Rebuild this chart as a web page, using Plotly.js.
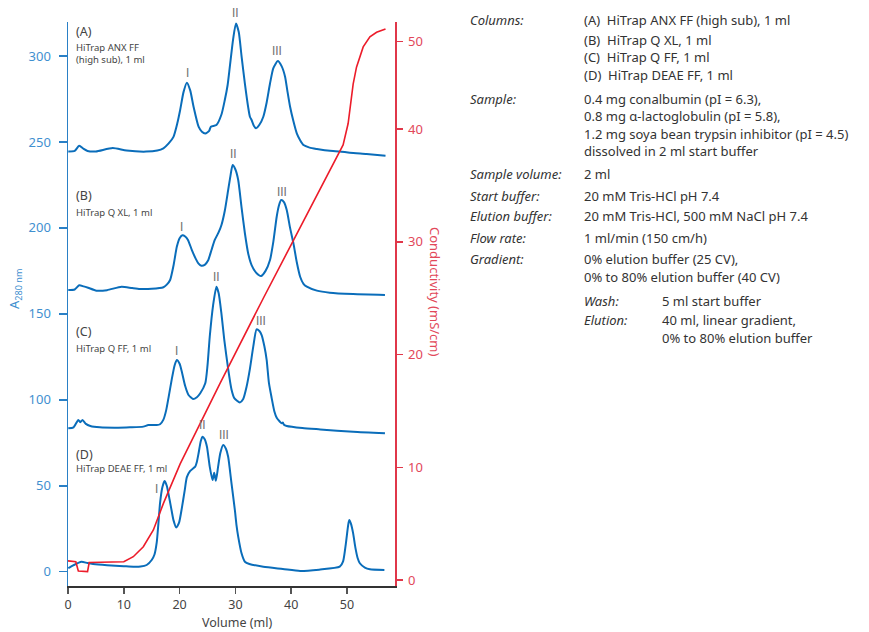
<!DOCTYPE html>
<html>
<head>
<meta charset="utf-8">
<script src="https://cdn.plot.ly/plotly-3.0.1.min.js"></script>
<style>html,body{margin:0;padding:0;background:#fff;}#chart{width:869px;height:632px;}</style>
</head>
<body>
<div id="chart"></div>
<script>
// ---------- DATA ----------
// Trace A: HiTrap ANX FF (high sub), 1 ml  (volume ml, A280 nm incl. offset)
var volA = [0.05,1.2,2.0,2.8,3.5,5.0,8.0,10.5,14.0,16.0,17.1,18.0,18.9,19.6,20.1,20.7,21.3,21.9,22.5,23.4,24.0,24.6,25.3,25.6,26.6,27.5,28.1,28.6,29.0,29.6,30.1,30.6,31.1,31.7,32.3,32.6,32.9,33.3,33.7,34.3,35.0,35.6,36.2,36.8,37.6,38.3,38.9,39.3,39.8,40.4,41.0,41.6,42.2,43.3,44.6,46.0,48.7,50.5,53.5,56.9];
var absA = [244.5,244.8,247.8,246.0,244.8,244.5,246.5,245.0,244.4,245.0,246.3,249,253,261,268.6,279,284.5,280,270.5,258.9,256,255,256.5,258.9,259.9,266,274.4,283,293.8,310,319,314,300,284,270,264.7,262.8,259.5,258,260,264.7,273,284,293,297.1,294,288,280,270.5,262,255,251,248.2,246.7,245.9,245.2,244.5,243.8,243,242];

// Trace B: HiTrap Q XL, 1 ml
var volB = [0.05,1.2,2.0,2.8,3.6,5.1,7.0,9.6,11.5,12.9,15.0,17.1,17.7,18.3,18.9,19.5,20.0,20.5,21.0,21.5,22.2,22.9,23.4,23.9,24.5,25.1,25.7,26.3,27.0,27.5,28.1,28.7,29.1,29.5,30.0,30.5,31.1,31.7,32.3,32.9,33.7,34.6,35.4,36.2,36.8,37.4,37.8,38.2,38.7,39.2,39.8,40.4,41.0,41.6,42.2,42.8,44.6,46.9,51.1,56.8];
var absB = [163.9,164.2,166.6,166,165.2,163.5,163.8,165.8,165,164.5,164.6,165.5,167,169.7,178,189,194,195.7,195,193,187.1,182,179.2,178,178.5,181,187,193,197.5,201.7,210,222,230,236.6,234,227.9,212,196.9,185,178.4,174,172,175,181.3,192,206.5,213,216.2,215,210.4,200,191,180,171.6,167.5,165.8,163.5,162.3,161.5,161];

// Trace C: HiTrap Q FF, 1 ml
var volC = [0.05,1.0,1.85,2.2,2.6,3.2,4.0,5.7,9.0,11.1,13.5,14.4,15.9,16.5,17.1,17.6,18.0,18.6,19.1,19.5,20.0,20.4,21.0,21.6,22.4,23.1,23.7,24.6,25.0,25.4,26.0,26.6,27.0,27.5,28.0,28.7,29.3,29.8,30.8,31.4,32.0,32.6,33.2,33.8,34.3,34.7,35.2,35.6,36.0,36.5,37.0,37.4,37.9,38.3,38.5,38.7,39.2,42.0,45.2,51.1,56.8];
var absC = [83.4,84,88.3,87,88.3,86,84.8,84,83.8,84,84.4,85.3,85.3,85.8,88.5,94,101,112,120,123.2,121,116.3,108,102.8,100.5,101.5,103.8,109.6,120,136.7,155,165.8,162,150,135,118,106,101,98.5,100.5,107.6,118,130.9,141,140,137.7,131,123.2,110,101,93,89.5,87.5,86.3,86.8,85.5,84.8,83.6,82.8,81.4,80.5];

// Trace D: HiTrap DEAE FF, 1 ml
var volD = [0.05,1.0,2.4,3.5,4.5,7.0,10.0,11.7,13.0,14.1,15.0,15.5,15.9,16.2,16.5,16.9,17.3,17.7,18.2,18.6,18.9,19.4,19.9,20.4,20.9,21.3,21.9,22.5,22.8,23.1,23.4,23.8,24.1,24.5,24.9,25.4,25.9,26.2,26.5,26.9,27.3,27.8,28.3,28.7,29.3,29.9,30.2,30.5,31.1,31.7,32.5,35.0,38.5,41.6,45.0,48.7,49.3,49.8,50.2,50.4,50.7,51.1,51.5,51.9,52.3,53.2,54.1,56.7];
var absD = [2.0,3.8,5.8,5.0,4.5,3.8,3.2,2.9,3.0,3.9,6.8,10,17,28,40,49,52.8,50,42,35,30,25.7,28.5,37,47,55,58.6,60.3,61.1,64,68.9,76,78.5,77,72.7,61.1,53.3,57.6,52.9,61.1,69,73.7,71.5,66.9,51.4,35.9,27,20.4,10.7,5.8,4.5,2.9,1.6,0.4,1.2,2.9,6,16.5,27,30.1,28,22.3,14,8,4.9,2.4,1.4,1.0];

// Conductivity (mS/cm)
var volCond = [0,1.4,1.85,3.5,3.8,10.0,11.7,13.5,15.3,17.1,20.1,27.2,35.0,42.2,49.3,50.2,51.1,51.7,52.9,54.1,55.3,56.9];
var cond    = [1.7,1.62,0.8,0.75,1.55,1.62,2.07,2.95,4.44,6.8,10.3,17.4,25.0,31.9,38.6,40.5,44.0,45.5,47.3,48.2,48.6,48.9];

// Tick labels
var xTicks = [0,10,20,30,40,50];
var leftTicks = [0,50,100,150,200,250,300];
// right axis: the printed "50" tick sits closer to "40" than the other steps
var rightTickVals = [0,10,20,30,40,47.8];
var rightTickText = ['0','10','20','30','40','50'];

// Peak labels (volume, A280)
var peakText = ['I','II','III','I','II','III','I','II','III','I','II','III'];
var peakX    = [21.4,30.1,37.5, 20.4,29.6,38.3, 19.4,26.6,34.5, 15.8,24.1,28.0];
var peakY    = [290.3,324.8,303.1, 200.7,243,221, 128.6,171.3,146, 47.9,85.3,79.5];

// Panel labels
var panelTitle = ['(A)','(B)','(C)','(D)'];
var panelSub   = ['HiTrap ANX FF<br>(high sub), 1 ml','HiTrap Q XL, 1 ml','HiTrap Q FF, 1 ml','HiTrap DEAE FF, 1 ml'];

// Method text
var methodLabels = ['Columns:','','','','Sample:','','','','Sample volume:','Start buffer:','Elution buffer:','Flow rate:','Gradient:',''];
var methodValues = ['(A)\u00a0 HiTrap ANX FF (high sub), 1 ml','(B)\u00a0 HiTrap Q XL, 1 ml','(C)\u00a0 HiTrap Q FF, 1 ml','(D)\u00a0 HiTrap DEAE FF, 1 ml',
  '0.4 mg conalbumin (pI = 6.3),','0.8 mg \u03b1-lactoglobulin (pI = 5.8),','1.2 mg soya bean trypsin inhibitor (pI = 4.5)','dissolved in 2 ml start buffer',
  '2 ml','20 mM Tris-HCl pH 7.4','20 mM Tris-HCl, 500 mM NaCl pH 7.4','1 ml/min (150 cm/h)','0% elution buffer (25 CV),','0% to 80% elution buffer (40 CV)'];
var gradLabels = ['Wash:','Elution:',''];
var gradValues = ['5 ml start buffer','40 ml, linear gradient,','0% to 80% elution buffer'];

// ---------- LAYOUT HELPERS ----------
var W = 869, H = 632, ML = 68, MR = 474, MT = 22, MB = 46;
var PW = W - ML - MR, PH = H - MT - MB;
var XR = [0,58.6], YR = [-8.32,319.8], Y2R = [-0.53,49.51];
function pxX(x){ return (x - ML) / PW; }
function pxY(y){ return (H - MB - y) / PH; }
function dataYtoPaper(v){ return (v - YR[0]) / (YR[1] - YR[0]); }

var FONT = 'Noto Sans, Open Sans, sans-serif';
var BLUE = '#0a6dba', BLUE_AX = '#2a80c6', BLUE_TXT = '#3f90d0';
var RED = '#ec1c2a', RED_AX = '#e0374a', RED_TXT = '#e2485a';
var GREY = '#444';

function line(x, y, color, width, yaxis){
  return {x:x, y:y, type:'scatter', mode:'lines', yaxis:yaxis||'y',
          line:{color:color, width:width, shape:'spline', smoothing:0.6}, hoverinfo:'skip'};
}
var traces = [
  line(volA, absA, BLUE, 2),
  line(volB, absB, BLUE, 2),
  line(volC, absC, BLUE, 2),
  line(volD, absD, BLUE, 2),
  {x:volCond, y:cond, type:'scatter', mode:'lines', yaxis:'y2', line:{color:RED, width:1.6}, hoverinfo:'skip'}
];

var ann = [];
// peak labels
for (var i=0;i<peakText.length;i++){
  ann.push({x:peakX[i], y:dataYtoPaper(peakY[i]), xref:'x', yref:'paper', text:peakText[i], showarrow:false,
    font:{family:'Roboto, Liberation Sans, sans-serif', size:12, color:'#707070'}, xanchor:'center', yanchor:'middle'});
}
// panel labels
var panelTitleY = [32,196,331,454], panelSubY = [54,213,348,468];
for (var i=0;i<4;i++){
  ann.push({x:pxX(74), y:pxY(panelTitleY[i]), xref:'paper', yref:'paper', text:panelTitle[i], showarrow:false,
    font:{family:FONT, size:12.5, color:GREY}, xanchor:'left', yanchor:'middle'});
  ann.push({x:pxX(74), y:pxY(panelSubY[i]), xref:'paper', yref:'paper', text:panelSub[i], showarrow:false, align:'left',
    font:{family:FONT, size:9.5, color:GREY}, xanchor:'left', yanchor:'middle'});
}
// axis titles
ann.push({x:pxX(15), y:pxY(289), xref:'paper', yref:'paper', text:'A<sub>280 nm</sub>', textangle:-90, showarrow:false,
  font:{family:FONT, size:13, color:BLUE_TXT}, xanchor:'center', yanchor:'middle'});
ann.push({x:pxX(435), y:pxY(292), xref:'paper', yref:'paper', text:'Conductivity (mS/cm)', textangle:90, showarrow:false,
  font:{family:FONT, size:13, color:RED_TXT}, xanchor:'center', yanchor:'middle'});
ann.push({x:pxX(237), y:pxY(632), xref:'paper', yref:'paper', text:'Volume (ml)', showarrow:false, borderpad:0,
  font:{family:FONT, size:12.5, color:GREY}, xanchor:'center', yanchor:'bottom'});
// method text
var methodY = [20,40,57,75,99,116,134,151,174,196,216,238,259,277];
for (var i=0;i<methodValues.length;i++){
  if (methodLabels[i]) ann.push({x:pxX(468), y:pxY(methodY[i]), xref:'paper', yref:'paper', text:'<i>'+methodLabels[i]+'</i>', showarrow:false,
    font:{family:FONT, size:13, color:'#333'}, xanchor:'left', yanchor:'middle'});
  ann.push({x:pxX(582), y:pxY(methodY[i]), xref:'paper', yref:'paper', text:methodValues[i], showarrow:false,
    font:{family:FONT, size:13, color:'#333'}, xanchor:'left', yanchor:'middle'});
}
var gradY = [301,320,338];
for (var i=0;i<gradValues.length;i++){
  if (gradLabels[i]) ann.push({x:pxX(582), y:pxY(gradY[i]), xref:'paper', yref:'paper', text:'<i>'+gradLabels[i]+'</i>', showarrow:false,
    font:{family:FONT, size:13, color:'#333'}, xanchor:'left', yanchor:'middle'});
  ann.push({x:pxX(660), y:pxY(gradY[i]), xref:'paper', yref:'paper', text:gradValues[i], showarrow:false,
    font:{family:FONT, size:13, color:'#333'}, xanchor:'left', yanchor:'middle'});
}

var layout = {
  width: W, height: H,
  margin: {l:ML, r:MR, t:MT, b:MB, pad:0},
  paper_bgcolor:'#fff', plot_bgcolor:'#fff',
  showlegend:false,
  font:{family:FONT},
  xaxis:{range:XR, tickvals:xTicks, ticks:'outside', ticklen:6, tickwidth:1.5, tickcolor:'#555',
    showline:true, linecolor:'#333', linewidth:1.5, showgrid:false, zeroline:false,
    tickfont:{family:FONT, size:12.5, color:GREY}, ticklabelstandoff:0},
  yaxis:{range:YR, tickvals:leftTicks, ticks:'outside', ticklen:8, tickwidth:1.5, tickcolor:BLUE_AX,
    showline:true, linecolor:BLUE_AX, linewidth:1.5, showgrid:false, zeroline:false,
    tickfont:{family:FONT, size:13, color:BLUE_TXT}, ticklabelstandoff:5},
  yaxis2:{range:Y2R, overlaying:'y', side:'right', tickvals:rightTickVals, ticktext:rightTickText,
    ticks:'outside', ticklen:6, tickwidth:1.5, tickcolor:RED_AX,
    showline:true, linecolor:RED_AX, linewidth:1.5, showgrid:false, zeroline:false,
    tickfont:{family:FONT, size:13, color:RED_TXT}, ticklabelstandoff:3},
  annotations: ann
};
Plotly.newPlot('chart', traces, layout, {displayModeBar:false, staticPlot:true});
</script>
</body>
</html>
